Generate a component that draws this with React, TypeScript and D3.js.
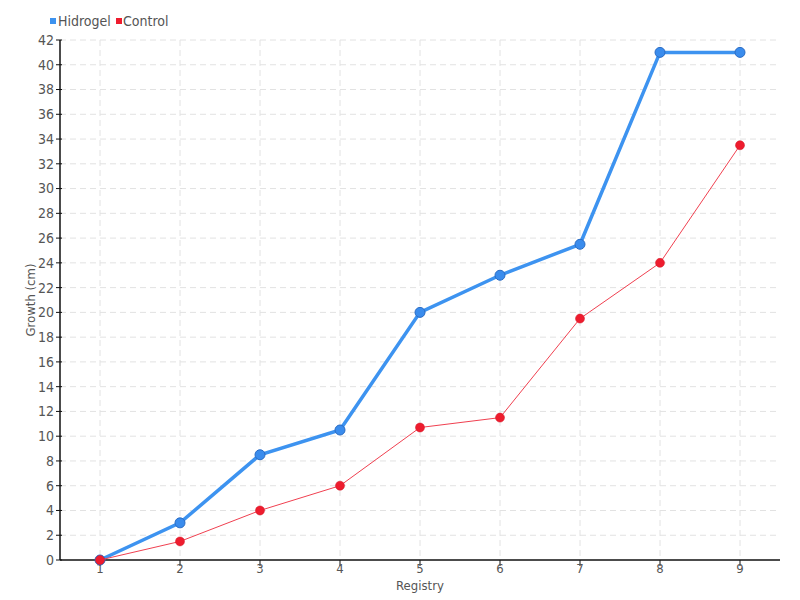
import React from "react";
import * as d3 from "d3";

const registries = [1, 2, 3, 4, 5, 6, 7, 8, 9];
const hidrogel = [0, 3, 8.5, 10.5, 20, 23, 25.5, 41, 41];
const control = [0, 1.5, 4, 6, 10.7, 11.5, 19.5, 24, 33.5];
const yTicks = d3.range(0, 43, 2);
const seriesNames = ["Hidrogel", "Control"];

const W = 800, H = 600;
const left = 60, right = 780, top = 40, bottom = 560;
const FONT = "'Liberation Sans Narrow', 'DejaVu Sans Condensed', 'Roboto Condensed', sans-serif";
const TXT = "#555";

export default function App() {
  const x = d3.scaleLinear().domain([0.5, 9.5]).range([left, right]);
  const y = d3.scaleLinear().domain([0, 42]).range([bottom, top]);
  const line = d3.line<number>().x((_, i) => x(registries[i])).y((d) => y(d));
  const blue = "#3d93f0";
  const red = "#ee1c2e";
  return (
    <svg width={W} height={H} style={{ position: "absolute", left: 0, top: 0, background: "#fff" }} fontFamily={FONT}>
      {yTicks.filter((t) => t > 0).map((t) => (
        <line key={"gy" + t} x1={left} x2={right} y1={y(t)} y2={y(t)} stroke="#e2e2e2" strokeDasharray="6,4" />
      ))}
      {registries.map((r) => (
        <line key={"gx" + r} x1={x(r)} x2={x(r)} y1={top} y2={bottom} stroke="#e2e2e2" strokeDasharray="6,4" />
      ))}
      <line x1={left} x2={left} y1={top} y2={bottom} stroke="#111" strokeWidth={1.5} />
      <line x1={left} x2={right} y1={bottom} y2={bottom} stroke="#111" strokeWidth={1.5} />
      {yTicks.map((t) => (
        <g key={"yt" + t}>
          <line x1={left - 4} x2={left + 2} y1={y(t)} y2={y(t)} stroke="#111" />
          <text x={left - 6} y={y(t)} dy="0.35em" textAnchor="end" fontSize={14} fill={TXT}>{t}</text>
        </g>
      ))}
      {registries.map((r) => (
        <g key={"xt" + r}>
          <line x1={x(r)} x2={x(r)} y1={bottom} y2={bottom + 6} stroke="#111" />
          <text x={x(r)} y={bottom + 13} textAnchor="middle" fontSize={13} fill={TXT}>{r}</text>
        </g>
      ))}
      <text x={(left + right) / 2} y={590} textAnchor="middle" fontSize={13} fill={TXT}>Registry</text>
      <text transform={`translate(35,${(top + bottom) / 2}) rotate(-90)`} textAnchor="middle" fontSize={13} fill={TXT}>Growth (cm)</text>
      <path d={line(hidrogel) || ""} fill="none" stroke={blue} strokeWidth={3.5} />
      {hidrogel.map((v, i) => (
        <circle key={"h" + i} cx={x(registries[i])} cy={y(v)} r={5} fill="#3a8ced" stroke="#2a6cc4" strokeWidth={1} />
      ))}
      <path d={line(control) || ""} fill="none" stroke="#f04050" strokeWidth={1} />
      {control.map((v, i) => (
        <circle key={"c" + i} cx={x(registries[i])} cy={y(v)} r={4.5} fill={red} stroke="#d01525" strokeWidth={0.5} />
      ))}
      <rect x={50} y={18} width={6} height={6} fill="#3d93f0" />
      <text x={58} y={26} fontSize={14} fill={TXT}>{seriesNames[0]}</text>
      <rect x={116} y={18} width={6} height={6} fill={red} />
      <text x={123} y={26} fontSize={14} fill={TXT}>{seriesNames[1]}</text>
    </svg>
  );
}
